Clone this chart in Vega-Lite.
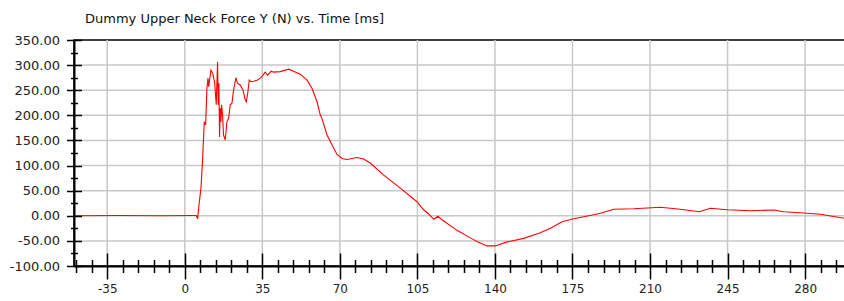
{
  "$schema": "https://vega.github.io/schema/vega-lite/v6.json",
  "width": 771,
  "height": 226,
  "autosize": "none",
  "padding": {"left": 74, "top": 40, "right": 0, "bottom": 35},
  "background": "white",
  "title": {
    "text": "Dummy Upper Neck Force Y (N) vs. Time [ms]",
    "anchor": "start",
    "frame": "group",
    "font": "DejaVu Sans",
    "fontSize": 13,
    "fontWeight": "normal",
    "color": "#111111",
    "baseline": "alphabetic",
    "offset": -2,
    "dx": 11
  },
  "config": {
    "view": {"stroke": "black", "strokeWidth": 1.5},
    "axis": {"tickColor": "black", "domainColor": "black", "title": null}
  },
  "datasets": {
    "xgrid": [{"g": -35}, {"g": 0}, {"g": 35}, {"g": 70}, {"g": 105}, {"g": 140}, {"g": 175}, {"g": 210}, {"g": 245}, {"g": 280}],
    "ygrid": [{"g": -50}, {"g": 0}, {"g": 50}, {"g": 100}, {"g": 150}, {"g": 200}, {"g": 250}, {"g": 300}],
    "curve": [
      {"t": -50, "v": 0}, {"t": -30, "v": 0.5}, {"t": -10, "v": 0}, {"t": 3, "v": 0.5},
      {"t": 5.2, "v": 0.5}, {"t": 5.8, "v": -6}, {"t": 6.5, "v": 25}, {"t": 7.3, "v": 55},
      {"t": 8.0, "v": 108}, {"t": 8.8, "v": 187}, {"t": 9.4, "v": 181}, {"t": 10.0, "v": 254},
      {"t": 10.5, "v": 274}, {"t": 10.8, "v": 257}, {"t": 11.8, "v": 290}, {"t": 12.6, "v": 284},
      {"t": 13.5, "v": 264}, {"t": 14.2, "v": 221}, {"t": 14.8, "v": 306}, {"t": 15.1, "v": 221},
      {"t": 15.4, "v": 264}, {"t": 15.7, "v": 157}, {"t": 16.0, "v": 214}, {"t": 16.3, "v": 187},
      {"t": 16.6, "v": 221}, {"t": 17.1, "v": 197}, {"t": 17.5, "v": 161}, {"t": 18.3, "v": 151},
      {"t": 19.0, "v": 187}, {"t": 19.8, "v": 194}, {"t": 20.5, "v": 221}, {"t": 21.3, "v": 224},
      {"t": 22.0, "v": 250}, {"t": 23.1, "v": 275}, {"t": 23.8, "v": 264}, {"t": 25.1, "v": 260},
      {"t": 26.3, "v": 250}, {"t": 27.3, "v": 231}, {"t": 27.8, "v": 227}, {"t": 28.5, "v": 247},
      {"t": 29.1, "v": 270}, {"t": 29.9, "v": 267}, {"t": 31.1, "v": 268}, {"t": 32.6, "v": 270},
      {"t": 34.1, "v": 274}, {"t": 34.8, "v": 277}, {"t": 36.3, "v": 286}, {"t": 37.4, "v": 280},
      {"t": 39.0, "v": 288}, {"t": 40.1, "v": 286}, {"t": 43.1, "v": 287}, {"t": 46.9, "v": 292},
      {"t": 49.1, "v": 288}, {"t": 52.1, "v": 282}, {"t": 55.2, "v": 270}, {"t": 57.4, "v": 254},
      {"t": 59.7, "v": 227}, {"t": 61.2, "v": 200}, {"t": 61.9, "v": 194}, {"t": 64.2, "v": 161},
      {"t": 66.5, "v": 141}, {"t": 68.7, "v": 122}, {"t": 71.0, "v": 114}, {"t": 73.2, "v": 112},
      {"t": 77.7, "v": 116}, {"t": 80.7, "v": 113}, {"t": 83.7, "v": 105}, {"t": 89.8, "v": 81},
      {"t": 97.3, "v": 55}, {"t": 104.8, "v": 28}, {"t": 107.8, "v": 12}, {"t": 110.0, "v": 4},
      {"t": 112.4, "v": -7}, {"t": 114.2, "v": -1}, {"t": 116.1, "v": -8}, {"t": 122.9, "v": -29},
      {"t": 129.7, "v": -46}, {"t": 131.9, "v": -51}, {"t": 136.4, "v": -60}, {"t": 140.2, "v": -60},
      {"t": 145.5, "v": -52}, {"t": 153.0, "v": -45}, {"t": 160.5, "v": -34}, {"t": 165.0, "v": -25},
      {"t": 170.3, "v": -12}, {"t": 175.5, "v": -6}, {"t": 184.6, "v": 2}, {"t": 187.6, "v": 5},
      {"t": 193.6, "v": 13}, {"t": 202.6, "v": 14}, {"t": 214.7, "v": 17}, {"t": 223.7, "v": 13},
      {"t": 232.2, "v": 8}, {"t": 237.2, "v": 15}, {"t": 244.8, "v": 12}, {"t": 255.3, "v": 10},
      {"t": 265.9, "v": 11.5}, {"t": 270.3, "v": 8}, {"t": 280.9, "v": 5}, {"t": 286.9, "v": 3},
      {"t": 297.7, "v": -5}
    ]
  },
  "layer": [
    {
      "data": {"name": "xgrid"},
      "mark": {"type": "rule", "color": "#c8c8c8", "strokeWidth": 1.5},
      "encoding": {
        "x": {"field": "g", "type": "quantitative", "axis": null}
      }
    },
    {
      "data": {"name": "ygrid"},
      "mark": {"type": "rule", "color": "#c8c8c8", "strokeWidth": 1.5},
      "encoding": {
        "y": {"field": "g", "type": "quantitative", "axis": null}
      }
    },
    {
      "data": {"name": "curve"},
      "mark": {"type": "line", "color": "#ff0000", "strokeWidth": 1.1, "clip": true},
      "encoding": {
        "x": {
          "field": "t", "type": "quantitative",
          "scale": {"domain": [-50, 298], "nice": false, "zero": false},
          "axis": {
            "orient": "bottom", "zindex": 1,
            "values": [-35, 0, 35, 70, 105, 140, 175, 210, 245, 280],
            "tickSize": 13, "tickWidth": 1.5,
            "domain": true, "domainWidth": 2,
            "grid": false,
            "labelFont": "DejaVu Sans", "labelFontSize": 12, "labelColor": "#222222",
            "labelPadding": 4,
            "labelExpr": "datum.value < 0 ? '-' + format(-datum.value, 'd') : format(datum.value, 'd')"
          }
        },
        "y": {
          "field": "v", "type": "quantitative",
          "scale": {"domain": [-100, 350], "nice": false, "zero": false},
          "axis": {
            "orient": "left", "zindex": 1,
            "values": [-100, -50, 0, 50, 100, 150, 200, 250, 300, 350],
            "tickSize": 7.5, "tickWidth": 1.5,
            "domain": true, "domainWidth": 2,
            "grid": false,
            "labelFont": "DejaVu Sans", "labelFontSize": 13, "labelColor": "#222222",
            "labelPadding": 7,
            "labelExpr": "datum.value < 0 ? '-' + format(-datum.value, '.2f') : format(datum.value, '.2f')"
          }
        }
      }
    },
    {
      "data": {"name": "curve"},
      "mark": {"type": "line", "strokeOpacity": 0},
      "encoding": {
        "x": {
          "field": "t", "type": "quantitative",
          "axis": {
            "orient": "bottom", "zindex": 1,
            "values": [-35, 0, 35, 70, 105, 140, 175, 210, 245, 280],
            "tickSize": -13, "tickWidth": 1.5,
            "domain": false, "grid": false, "labels": false
          }
        },
        "y": {
          "field": "v", "type": "quantitative",
          "axis": {
            "orient": "left", "zindex": 1,
            "values": [-100, -50, 0, 50, 100, 150, 200, 250, 300, 350],
            "tickSize": -7.5, "tickWidth": 1.5,
            "domain": false, "grid": false, "labels": false
          }
        }
      }
    },
    {
      "data": {"name": "curve"},
      "mark": {"type": "line", "strokeOpacity": 0},
      "encoding": {
        "x": {
          "field": "t", "type": "quantitative",
          "axis": {
            "orient": "bottom", "zindex": 1,
            "values": [-49, -42, -28, -21, -14, -7, 7, 14, 21, 28, 42, 49, 56, 63, 77, 84, 91, 98, 112, 119, 126, 133, 147, 154, 161, 168, 182, 189, 196, 203, 217, 224, 231, 238, 252, 259, 266, 273, 287, 294],
            "tickSize": 6.5, "tickWidth": 1.5,
            "domain": false, "grid": false, "labels": false
          }
        },
        "y": {
          "field": "v", "type": "quantitative",
          "axis": {
            "orient": "left", "zindex": 1,
            "values": [-75, -25, 25, 75, 125, 175, 225, 275, 325],
            "tickSize": 3.5, "tickWidth": 1.5,
            "domain": false, "grid": false, "labels": false
          }
        }
      }
    },
    {
      "data": {"name": "curve"},
      "mark": {"type": "line", "strokeOpacity": 0},
      "encoding": {
        "x": {
          "field": "t", "type": "quantitative",
          "axis": {
            "orient": "bottom", "zindex": 1,
            "values": [-49, -42, -28, -21, -14, -7, 7, 14, 21, 28, 42, 49, 56, 63, 77, 84, 91, 98, 112, 119, 126, 133, 147, 154, 161, 168, 182, 189, 196, 203, 217, 224, 231, 238, 252, 259, 266, 273, 287, 294],
            "tickSize": -6.5, "tickWidth": 1.5,
            "domain": false, "grid": false, "labels": false
          }
        },
        "y": {
          "field": "v", "type": "quantitative",
          "axis": {
            "orient": "left", "zindex": 1,
            "values": [-75, -25, 25, 75, 125, 175, 225, 275, 325],
            "tickSize": -3.5, "tickWidth": 1.5,
            "domain": false, "grid": false, "labels": false
          }
        }
      }
    }
  ],
  "resolve": {"axis": {"x": "independent", "y": "independent"}}
}
